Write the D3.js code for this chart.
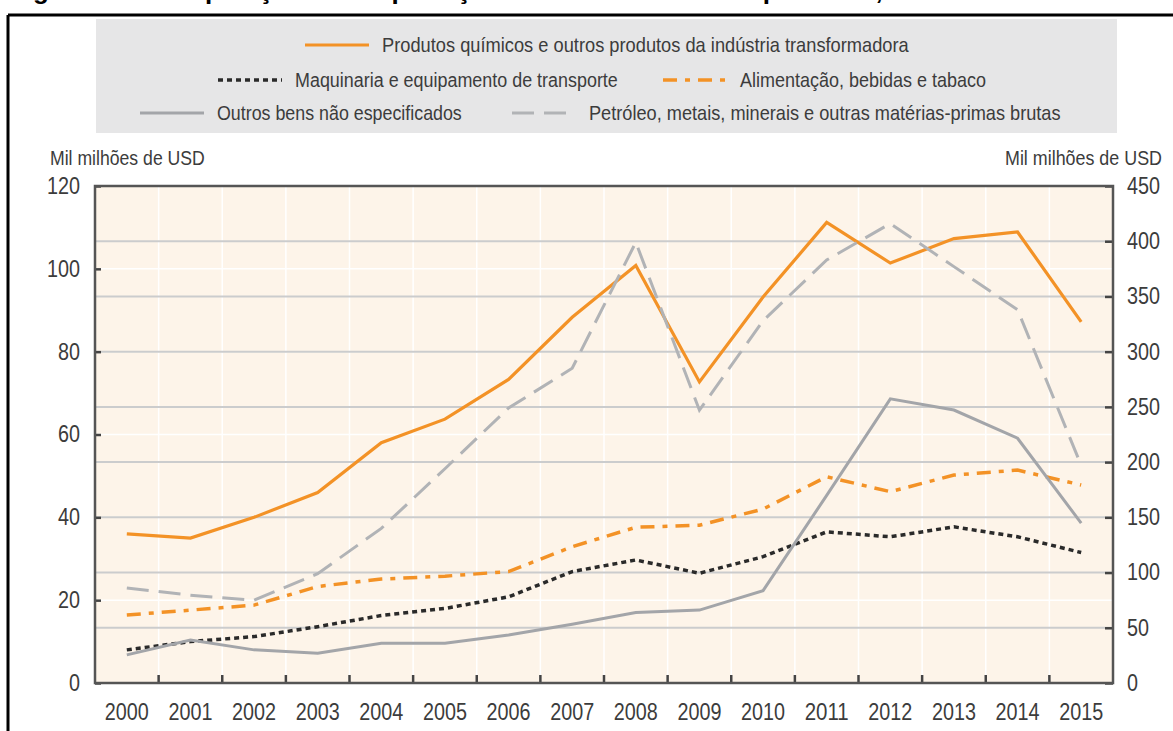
<!DOCTYPE html>
<html>
<head>
<meta charset="utf-8">
<script src="https://cdn.jsdelivr.net/npm/d3@7"></script>
<style>
  body { margin: 0; background: #fff; }
  svg text { font-family: "Liberation Sans", Arial, sans-serif; fill: #3c3c3c; }
</style>
</head>
<body>
<div id="chart"></div>
<script>
// data (mil milhões de USD)
var years = ["2000","2001","2002","2003","2004","2005","2006","2007","2008","2009","2010","2011","2012","2013","2014","2015"];
var quimicos    = [36, 35, 40, 46, 58, 63.7, 73.3, 88.3, 100.8, 72.7, 93.2, 111.2, 101.4, 107.3, 108.9, 87.2];
var maquinaria  = [8, 10, 11.2, 13.6, 16.3, 18, 20.8, 26.9, 29.7, 26.5, 30.5, 36.5, 35.3, 37.7, 35.3, 31.5];
var alimentacao = [16.4, 17.6, 18.8, 23.3, 25.1, 25.8, 26.9, 32.9, 37.6, 38.1, 42, 49.8, 46.2, 50.2, 51.4, 47.8];
var outros      = [6.8, 10.4, 8, 7.2, 9.6, 9.6, 11.6, 14.2, 17, 17.6, 22.3, 45.3, 68.6, 65.9, 59.1, 38.6];
// right axis
var petroleo    = [86, 79.5, 75, 99, 140, 194, 249, 285, 399, 247, 328, 383, 416, 377, 338, 197];

var leftTicks = [0, 20, 40, 60, 80, 100, 120];
var rightTicks = [0, 50, 100, 150, 200, 250, 300, 350, 400, 450];
var unitLabel = "Mil milhões de USD";
var titleText = "Figura 2.4. Composição das exportações totais de África em produtos, 2000-15";

var series = [
  {name: "Produtos químicos e outros produtos da indústria transformadora", values: quimicos, axis: "left",
   color: "#f39226", width: 3.2, dash: null, lx: 305, ly: 45, tw: 527},
  {name: "Maquinaria e equipamento de transporte", values: maquinaria, axis: "left",
   color: "#2a2a2a", width: 3.5, dash: "5,4", lx: 218, ly: 80, tw: 323},
  {name: "Alimentação, bebidas e tabaco", values: alimentacao, axis: "left",
   color: "#f39226", width: 3.5, dash: "14,8,5,8", lx: 663, ly: 80, tw: 246},
  {name: "Outros bens não especificados", values: outros, axis: "left",
   color: "#a3a5a9", width: 3, dash: null, lx: 140, ly: 113, tw: 245},
  {name: "Petróleo, metais, minerais e outras matérias-primas brutas", values: petroleo, axis: "right",
   color: "#b1b3b6", width: 3, dash: "22,10", lx: 512, ly: 113, tw: 472}
];

var W = 1173, H = 731;
var plot = {left: 95, right: 1113, top: 186, bottom: 683};

// squeeze a text horizontally to a given width (condensed look), anchored at x
function fit(text, x, y, width, anchor) {
    var w = text.node().getComputedTextLength();
    var k = width / w;
    var x0 = anchor === "end" ? x - width : (anchor === "middle" ? x - width / 2 : x);
    text.attr("x", 0).attr("y", 0).attr("text-anchor", "start")
        .attr("transform", "translate(" + x0 + "," + y + ") scale(" + k + ",1)");
}

var svg = d3.select("#chart").append("svg")
    .attr("width", W)
    .attr("height", H);

// title (cut off at the top of the picture)
svg.append("text")
    .attr("x", 10).attr("y", -1)
    .style("font-weight", "bold").style("font-size", "26px").style("fill", "#000")
    .text(titleText);

// outer frame
svg.append("line").attr("x1", 8).attr("x2", W).attr("y1", 15).attr("y2", 15)
    .attr("stroke", "#000").attr("stroke-width", 3);
svg.append("line").attr("x1", 8).attr("x2", 8).attr("y1", 15).attr("y2", H)
    .attr("stroke", "#000").attr("stroke-width", 3);

// legend box
svg.append("rect").attr("x", 96).attr("y", 19).attr("width", 1021).attr("height", 114)
    .attr("fill", "#e6e6e7");

var leg = svg.selectAll(".leg").data(series).enter().append("g").attr("class", "leg");
leg.append("line")
    .attr("x1", function(d) { return d.lx; })
    .attr("x2", function(d) { return d.lx + 64; })
    .attr("y1", function(d) { return d.ly; })
    .attr("y2", function(d) { return d.ly; })
    .attr("stroke", function(d) { return d.color; })
    .attr("stroke-width", function(d) { return d.width; })
    .attr("stroke-dasharray", function(d) { return d.dash; });
leg.append("text")
    .attr("dy", "0.35em")
    .style("font-size", "21px")
    .text(function(d) { return d.name; })
    .each(function(d) { fit(d3.select(this), d.lx + 77, d.ly, d.tw); });

// scales
var x = d3.scaleBand().domain(years).range([plot.left, plot.right]);
var yL = d3.scaleLinear().domain([0, 120]).range([plot.bottom, plot.top]);
var yR = d3.scaleLinear().domain([0, 450]).range([plot.bottom, plot.top]);

// plot background
svg.append("rect")
    .attr("x", plot.left).attr("y", plot.top)
    .attr("width", plot.right - plot.left).attr("height", plot.bottom - plot.top)
    .attr("fill", "#fdf4e9");

// white grid: left ticks and year boundaries
svg.selectAll(".wgrid").data(leftTicks.slice(1, -1)).enter().append("line")
    .attr("x1", plot.left).attr("x2", plot.right)
    .attr("y1", function(d) { return yL(d); }).attr("y2", function(d) { return yL(d); })
    .attr("stroke", "#fff").attr("stroke-width", 1.5);
svg.selectAll(".vgrid").data(years.slice(1)).enter().append("line")
    .attr("x1", function(d) { return x(d); }).attr("x2", function(d) { return x(d); })
    .attr("y1", plot.top).attr("y2", plot.bottom)
    .attr("stroke", "#fff").attr("stroke-width", 1.5);

// grey grid: right ticks
svg.selectAll(".ggrid").data(rightTicks.slice(1, -1)).enter().append("line")
    .attr("x1", plot.left).attr("x2", plot.right)
    .attr("y1", function(d) { return yR(d); }).attr("y2", function(d) { return yR(d); })
    .attr("stroke", "#cbcccd").attr("stroke-width", 2);

// series lines
series.forEach(function(s) {
    var yy = s.axis === "right" ? yR : yL;
    var line = d3.line()
        .x(function(d, i) { return x(years[i]) + x.bandwidth() / 2; })
        .y(function(d) { return yy(d); });
    svg.append("path")
        .datum(s.values)
        .attr("d", line)
        .attr("fill", "none")
        .attr("stroke", s.color)
        .attr("stroke-width", s.width)
        .attr("stroke-dasharray", s.dash);
});

// axes
var axL = svg.append("g")
    .attr("transform", "translate(" + plot.left + ",0)")
    .call(d3.axisLeft(yL).tickValues(leftTicks).tickSize(-6).tickPadding(15));
var axR = svg.append("g")
    .attr("transform", "translate(" + plot.right + ",0)")
    .call(d3.axisRight(yR).tickValues(rightTicks).tickSize(-8).tickPadding(14));
var axB = svg.append("g")
    .attr("transform", "translate(0," + plot.bottom + ")")
    .call(d3.axisBottom(x).tickSize(0).tickPadding(21));

[axL, axR, axB].forEach(function(a) {
    a.select(".domain").remove();
    a.selectAll("text")
        .style("font-size", "23px").style("fill", "#3c3c3c")
        .attr("textLength", function() { return this.textContent.length * 11; })
        .attr("lengthAdjust", "spacingAndGlyphs");
    a.selectAll(".tick line").attr("stroke", "#444").attr("stroke-width", 2.5);
});

// bottom tick marks at year boundaries
svg.selectAll(".btick").data(years.slice(1)).enter().append("line")
    .attr("x1", function(d) { return x(d); }).attr("x2", function(d) { return x(d); })
    .attr("y1", plot.bottom).attr("y2", plot.bottom - 8)
    .attr("stroke", "#444").attr("stroke-width", 2.5);

// frame of plot area
svg.append("rect")
    .attr("x", plot.left).attr("y", plot.top)
    .attr("width", plot.right - plot.left).attr("height", plot.bottom - plot.top)
    .attr("fill", "none").attr("stroke", "#555").attr("stroke-width", 2.5);

// unit labels
var uL = svg.append("text").attr("dy", "0.35em").style("font-size", "21px").text(unitLabel);
fit(uL, 50, 158, 155);
var uR = svg.append("text").attr("dy", "0.35em").style("font-size", "21px").text(unitLabel);
fit(uR, 1162, 158, 157, "end");
</script>
</body>
</html>
